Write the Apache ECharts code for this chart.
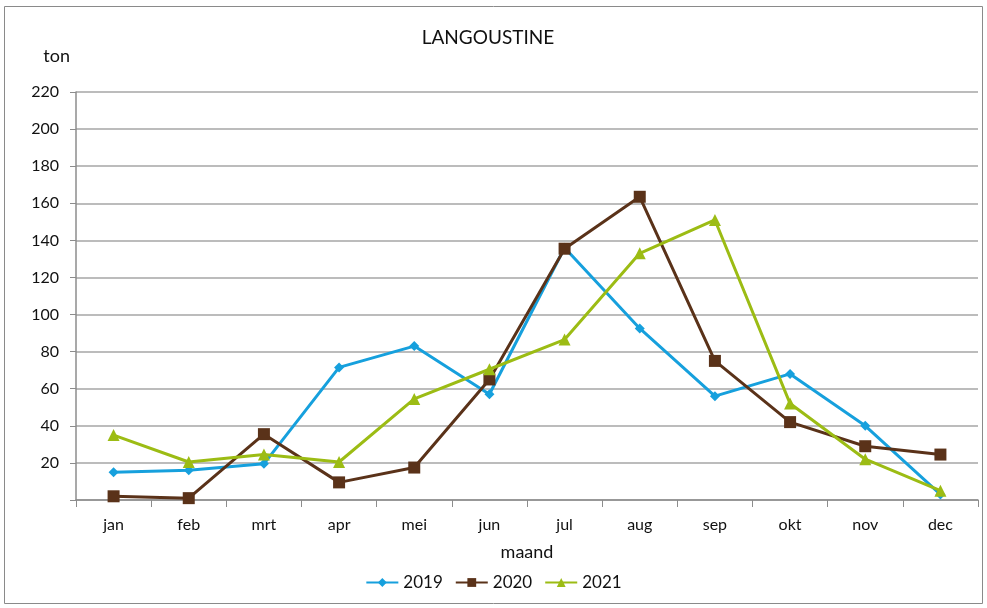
<!DOCTYPE html>
<html>
<head>
<meta charset="utf-8">
<script src="https://cdn.jsdelivr.net/npm/echarts@6/dist/echarts.min.js"></script>
<style>
  html, body { margin: 0; padding: 0; background: #fff; }
  #main { width: 987px; height: 608px; }
</style>
</head>
<body>
<div id="main"></div>
<script>
// maanden
var months = ["jan", "feb", "mrt", "apr", "mei", "jun", "jul", "aug", "sep", "okt", "nov", "dec"];
// aanvoer langoustine (ton)
var y2019 = [15, 16, 19.5, 71.5, 83, 57, 136, 92.5, 56, 68, 40, 3];
var y2020 = [2, 1, 35.5, 9.5, 17.5, 65, 135.5, 163.5, 75, 42, 29, 24.5];
var y2021 = [35, 20.5, 24.5, 20.5, 54.5, 70.5, 86.5, 133, 151, 52, 22, 5];

var fontFam = "Lato, 'Open Sans', sans-serif";
var myChart = echarts.init(document.getElementById("main"));

myChart.setOption({
  animation: false,
  textStyle: { fontFamily: fontFam },
  title: {
    text: "LANGOUSTINE",
    left: 483,
    top: 23,
    textAlign: "center",
    textStyle: { fontSize: 19, fontWeight: "normal", color: "#111" }
  },
  graphic: [{
    type: "rect",
    shape: { x: 4.5, y: 6.5, width: 978, height: 597 },
    style: { fill: "none", stroke: "#8a8a8a", lineWidth: 1 },
    silent: true
  }],
  legend: {
    bottom: 12,
    left: "center",
    itemWidth: 32,
    itemHeight: 11,
    itemGap: 12,
    textStyle: { fontSize: 17, color: "#111", fontFamily: fontFam },
    data: ["2019", "2020", "2021"]
  },
  grid: { left: 76, right: 9, top: 92, bottom: 108 },
  xAxis: {
    type: "category",
    data: months,
    boundaryGap: true,
    name: "maand",
    nameLocation: "middle",
    nameGap: 43,
    nameTextStyle: { fontSize: 18, color: "#111", fontFamily: fontFam },
    axisLine: { lineStyle: { color: "#8c8c8c", width: 1.5 } },
    axisTick: { show: true, length: 7, lineStyle: { color: "#8c8c8c" } },
    axisLabel: { fontSize: 16, color: "#111", margin: 17 }
  },
  yAxis: {
    type: "value",
    min: 0,
    max: 220,
    interval: 20,
    name: "ton",
    nameLocation: "end",
    nameGap: 27,
    nameTextStyle: { fontSize: 18, color: "#111", align: "right", padding: [0, 6, 0, 0], fontFamily: fontFam },
    axisLine: { show: true, lineStyle: { color: "#8c8c8c", width: 1.5 } },
    axisTick: { show: true, length: 6, lineStyle: { color: "#8c8c8c" } },
    axisLabel: {
      fontSize: 16,
      color: "#111",
      margin: 17,
      formatter: function (v) { return v === 0 ? "" : v; }
    },
    splitLine: { lineStyle: { color: "#a6a6a6", width: 1.5 } }
  },
  series: [
    {
      name: "2019",
      type: "line",
      data: y2019,
      symbol: "diamond",
      symbolSize: 10,
      lineStyle: { color: "#16a0dd", width: 3 },
      itemStyle: { color: "#16a0dd" }
    },
    {
      name: "2020",
      type: "line",
      data: y2020,
      symbol: "rect",
      symbolSize: 12,
      lineStyle: { color: "#5a3219", width: 3 },
      itemStyle: { color: "#5a3219" }
    },
    {
      name: "2021",
      type: "line",
      data: y2021,
      symbol: "triangle",
      symbolSize: 12,
      lineStyle: { color: "#9cbc14", width: 3 },
      itemStyle: { color: "#9cbc14" }
    }
  ]
});
</script>
</body>
</html>
